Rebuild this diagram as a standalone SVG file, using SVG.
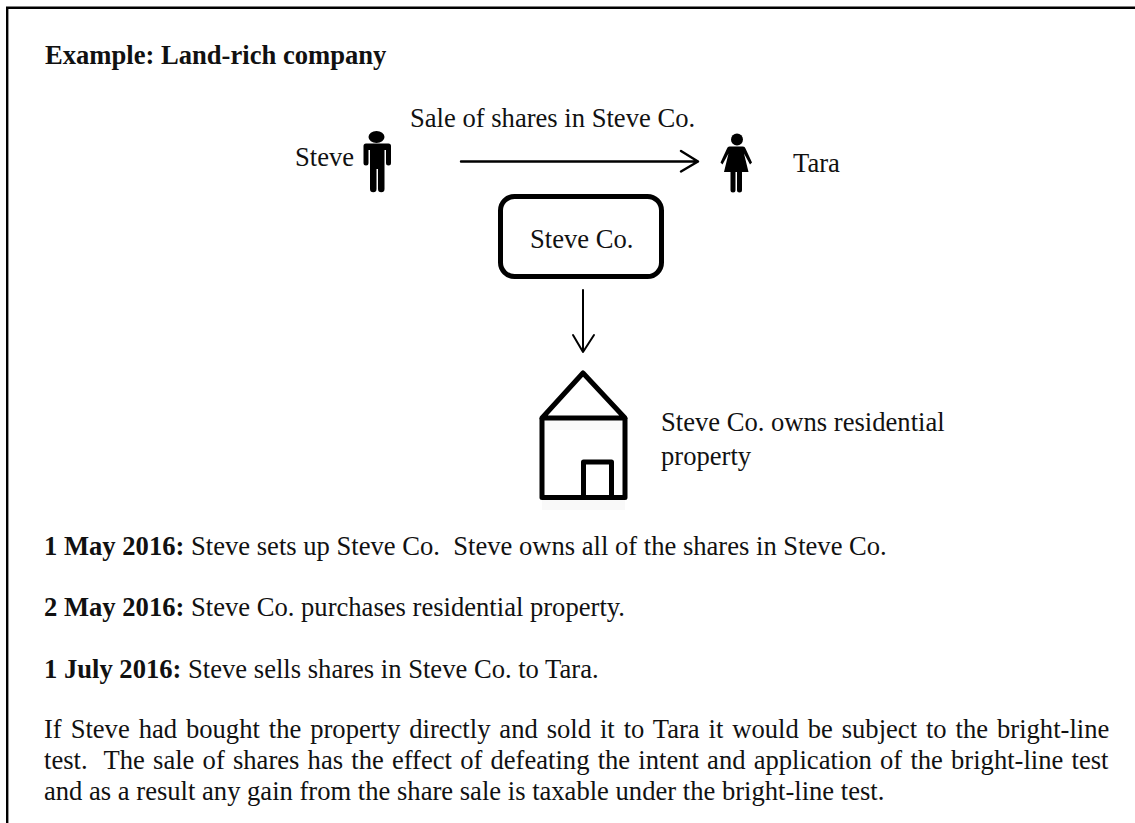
<svg xmlns="http://www.w3.org/2000/svg" width="1135" height="823" viewBox="0 0 1135 823">
<style>
text{font-family:"Liberation Serif","Times New Roman",serif;font-size:26.6px;fill:#111;white-space:pre}
.b{font-weight:bold}
.l{fill:none;stroke:#000;stroke-width:2.4;stroke-linecap:round;stroke-linejoin:round}
.h{fill:none;stroke:#000;stroke-width:5;stroke-linejoin:round}
</style>
<rect width="1135" height="823" fill="#fff"/>
<path d="M7.2 823V7.8H1135" fill="none" stroke="#000" stroke-width="2.4"/>
<text class="b" x="45" y="64">Example: Land-rich company</text>
<g id="steve">
<text x="295" y="166">Steve</text>
<ellipse cx="376.500" cy="137" rx="8" ry="6"/>
<path d="M364.500 143.500h24a2.500 2.500 0 0 1 2.500 2.500V163a2.500 2.500 0 0 1-5 0v-13h-1.500v39a3 3 0 0 1-6.500 0v-20h-1.500v20a3 3 0 0 1-6.500 0v-39h-1.500v13a2.500 2.500 0 0 1-5 0V146a2.500 2.500 0 0 1 2.500-2.500z"/>
</g>
<g id="tara">
<circle cx="737" cy="139.500" r="6"/>
<path d="M731 146.500h12a3 3 0 0 1 2.500 2l6.500 14-2 2-6-11 4.500 18.500h-6.500v18a2.500 2.500 0 0 1-5 0v-18h-1.500v18a2.500 2.500 0 0 1-5 0v-18h-6.500l4.500-18.500-6 11-2-2 6.500-14a3 3 0 0 1 2.500-2z"/>
<text x="793" y="172">Tara</text>
</g>
<g id="steve-co">
<rect x="500.500" y="196.500" width="161" height="80" rx="14" fill="#fff" stroke="#000" stroke-width="5"/>
<text x="530" y="248">Steve Co.</text>
</g>
<g id="property">
<path d="M542 420H625V430H542ZM542 500H625V510H542Z" fill="#f9f9f9"/>
<path class="h" d="M542 418L583 373L625 418Z"/>
<path class="h" d="M542 418V497.500H625V418"/>
<rect class="h" x="583.500" y="462" width="28" height="35.500"/>
<text x="661" y="431">Steve Co. owns residential</text>
<text x="661" y="465">property</text>
</g>
<g id="connectors">
<path class="l" d="M461 161.500H698M681 151L698 161.500L681 171.500"/>
<path class="l" style="stroke-width:2" d="M583 290V352M573 335L583 352L594 335"/>
</g>
<text x="410" y="127">Sale of shares in Steve Co.</text>
<text x="44" y="555"><tspan class="b">1 May 2016:</tspan> Steve sets up Steve Co.  Steve owns all of the shares in Steve Co.</text>
<text x="44" y="616"><tspan class="b">2 May 2016:</tspan> Steve Co. purchases residential property.</text>
<text x="44" y="678"><tspan class="b">1 July 2016:</tspan> Steve sells shares in Steve Co. to Tara.</text>
<text x="44" y="738" word-spacing="2.28">If Steve had bought the property directly and sold it to Tara it would be subject to the bright-line</text>
<text x="44" y="769" word-spacing="1.55">test.  The sale of shares has the effect of defeating the intent and application of the bright-line test</text>
<text x="44" y="800">and as a result any gain from the share sale is taxable under the bright-line test.</text>
</svg>
